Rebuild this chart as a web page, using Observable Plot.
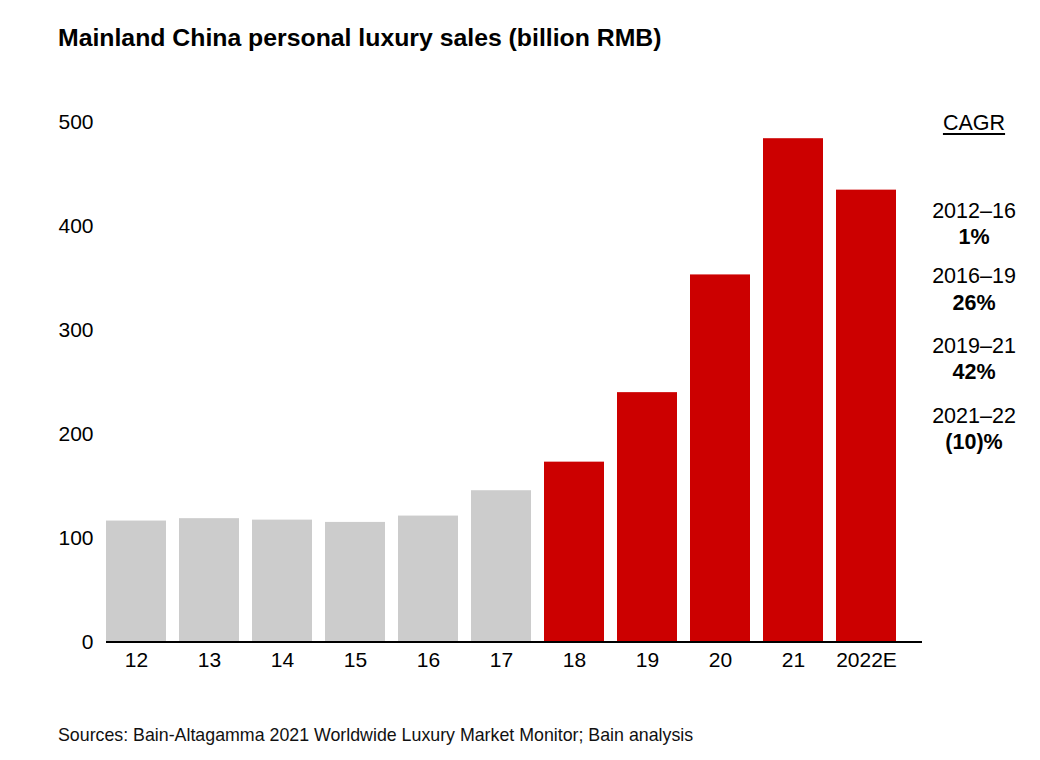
<!DOCTYPE html>
<html>
<head>
<meta charset="utf-8">
<script src="https://cdn.jsdelivr.net/npm/d3@7"></script>
<script src="https://cdn.jsdelivr.net/npm/@observablehq/plot@0.6"></script>
<style>
  html, body { margin: 0; padding: 0; background: #fff; }
  body { font-family: "Liberation Sans", Arial, sans-serif; color: #000; }
  #wrap { position: relative; width: 1040px; height: 760px; overflow: hidden; }
  #title { position: absolute; left: 58px; top: 24px; font-size: 24.8px; font-weight: bold; line-height: 28px; white-space: nowrap; }
  #chart { position: absolute; left: 0; top: 80px; }
  #footer { position: absolute; left: 58px; top: 724px; font-size: 17.8px; line-height: 22px; white-space: nowrap; color: #111; }
  #cagr { position: absolute; left: 914px; top: 0; width: 120px; font-size: 21.5px; text-align: center; }
  #cagr .hdr { position: absolute; left: 0; width: 120px; top: 110px; line-height: 26px; text-decoration: underline; text-underline-offset: 3px; }
  #cagr .grp { position: absolute; left: 0; width: 120px; line-height: 26.5px; }
  #cagr .val { font-weight: bold; }
</style>
</head>
<body>
<div id="wrap">
  <div id="title"></div>
  <div id="chart"></div>
  <div id="cagr"></div>
  <div id="footer"></div>
</div>
<script>
// ---- data ----
const titleText = "Mainland China personal luxury sales (billion RMB)";
const sourceText = "Sources: Bain-Altagamma 2021 Worldwide Luxury Market Monitor; Bain analysis";
const years = ["12", "13", "14", "15", "16", "17", "18", "19", "20", "21", "2022E"];
const sales = [116.4, 118.7, 117.3, 115.1, 121.2, 145.6, 173.1, 240.0, 353.3, 484.4, 434.9];
const highlightFrom = "18";
const yTicks = [0, 100, 200, 300, 400, 500];
const cagrHeader = "CAGR";
const cagrPeriods = ["2012–16", "2016–19", "2019–21", "2021–22"];
const cagrValues = ["1%", "26%", "42%", "(10)%"];

// ---- build ----
const table = years.map((y, i) => ({year: y, value: sales[i], hi: i >= years.indexOf(highlightFrom)}));

document.getElementById("title").textContent = titleText;
document.getElementById("footer").textContent = sourceText;

const chart = Plot.plot({
  width: 1040,
  height: 600,
  marginTop: 42,
  marginBottom: 38.5,
  marginLeft: 106,
  marginRight: 118,
  style: {fontFamily: "'Liberation Sans', Arial, sans-serif", fontSize: "21px", color: "#000", background: "transparent"},
  x: {domain: years, range: [105.7, 896.6], paddingInner: 0.175, paddingOuter: 0, label: null},
  y: {domain: [0, 500], label: null},
  marks: [
    Plot.barY(table, {x: "year", y: "value", fill: d => d.hi ? "#cc0000" : "#cccccc"}),
    Plot.ruleY([0], {stroke: "#000", strokeWidth: 2}),
    Plot.axisY({ticks: yTicks, tickSize: 0, tickPadding: 13, label: null, fontSize: 21}),
    Plot.axisX({tickSize: 0, tickPadding: 10, label: null, fontSize: 21})
  ]
});
document.getElementById("chart").appendChild(chart);

const cagr = document.getElementById("cagr");
const hdr = document.createElement("div");
hdr.className = "hdr";
hdr.textContent = cagrHeader;
cagr.appendChild(hdr);
const groupTops = [197.5, 263, 332.5, 402.5];
cagrPeriods.forEach((p, i) => {
  const g = document.createElement("div");
  g.className = "grp";
  g.style.top = groupTops[i] + "px";
  const a = document.createElement("div");
  a.textContent = p;
  const b = document.createElement("div");
  b.className = "val";
  b.textContent = cagrValues[i];
  g.appendChild(a); g.appendChild(b);
  cagr.appendChild(g);
});
</script>
</body>
</html>
